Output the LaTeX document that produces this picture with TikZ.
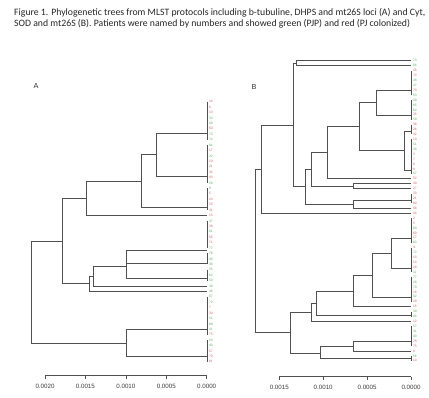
\documentclass[tikz,border=0pt]{standalone}
\usepackage{fontspec}
\usepackage{xcolor}
\usetikzlibrary{positioning}
\setmainfont{Carlito}
\newfontfamily\plotfont{Liberation Sans}
\definecolor{PatRed}{HTML}{E25C62}
\definecolor{PatGreen}{HTML}{58B45C}
\definecolor{TreeGray}{HTML}{505050}

\begin{document}
\begin{tikzpicture}[
  x=1pt, y=-1pt,
  caption/.style={anchor=base west, inner sep=0pt, font=\fontsize{9.75}{11}\selectfont, text=black!85},
  panel/.style={inner sep=0pt, font=\plotfont\fontsize{7.3}{8}\selectfont, text=black!80},
  leaf/.style={inner sep=0pt, font=\plotfont\fontsize{3.3}{3.3}\selectfont},
  pjp/.style={text=PatGreen},
  pjc/.style={text=PatRed},
  branch/.style={draw=TreeGray, line width=0.9pt},
  axis/.style={draw=TreeGray, line width=0.7pt},
  ticklab/.style={inner sep=0pt, font=\plotfont\fontsize{6.2}{7}\selectfont, text=black!75}
]
\useasboundingbox[fill=white] (0,0) rectangle (429,398);

\node[caption] (cap1) at (14,15.7) {Figure 1. Phylogenetic trees from MLST protocols including b-tubuline, DHPS and mt26S loci (A) and Cyt,};
\node[caption] (cap2) at (14,26.7) {SOD and mt26S (B). Patients were named by numbers and showed green (PJP) and red (PJ colonized)};

\node[panel] (labA) at (36,86) {A};
\node[panel] (labB) at (254,87) {B};

% tree A: leaves
\foreach \lab/\kind [count=\i from 0] in {14/pjc,6/pjc,13/pjc,33/pjp,49/pjp,60/pjc,73/pjp,74/pjp,
  64/pjp,17/pjc,22/pjp,19/pjc,21/pjc,32/pjc,43/pjc,58/pjp,8/pjp,5/pjc,24/pjc,25/pjc,41/pjc,15/pjc,
  37/pjp,28/pjc,61/pjp,65/pjc,71/pjc,77/pjp,78/pjp,48/pjp,36/pjp,55/pjp,62/pjp,59/pjp,39/pjp,46/pjp,
  67/pjp,72/pjp,7/pjc,30/pjc,51/pjp,69/pjp,31/pjp,75/pjc,53/pjp,40/pjp,57/pjc,70/pjc,81/pjc}{
  \coordinate (a\i) at (207,{101.7+5.42*\i});
  \node[leaf,\kind,right=1.8pt of a\i] (la\i) {\lab};
}
\draw[branch] (a0) -- (a7);
\draw[branch] (a8) -- (a15);
\draw[branch] (a16) -- (a20);
\draw[branch] (a22) -- (a27);
\draw[branch] (a28) -- (a30);
\draw[branch] (a31) -- (a33);
\draw[branch] (a36) -- (a43);
\draw[branch] (a44) -- (a48);
\coordinate (ca1) at (207,133.3);
\coordinate (ca2) at (207,176);
\coordinate (ca3) at (207,207.3);
\coordinate (ca4) at (207,250);
\coordinate (ca5) at (207,263.3);
\coordinate (ca6) at (207,278.3);
\coordinate (ca7) at (207,329.3);
\coordinate (ca8) at (207,356.7);

% tree A: joins
\coordinate (nA1) at (156.7,154.7);
\coordinate (nA2) at (141.7,181);
\coordinate (nA3) at (86.7,198.3);
\coordinate (nA4) at (126,266);
\coordinate (nA5) at (93,276);
\coordinate (nA6) at (89.3,283.7);
\coordinate (nA7) at (62,241);
\coordinate (nA8) at (126,343);
\coordinate (rootA) at (31.7,292);
\draw[branch] (nA1) |- (ca1) (nA1) |- (ca2);
\draw[branch] (nA2) |- (nA1) (nA2) |- (ca3);
\draw[branch] (nA3) |- (nA2) (nA3) |- (a21);
\draw[branch] (nA4) |- (ca4) (nA4) |- (ca5) (nA4) |- (ca6);
\draw[branch] (nA5) |- (nA4) (nA5) |- (a34);
\draw[branch] (nA6) |- (nA5) (nA6) |- (a35);
\draw[branch] (nA7) |- (nA3) (nA7) |- (nA6);
\draw[branch] (nA8) |- (ca7) (nA8) |- (ca8);
\draw[branch] (rootA) |- (nA7) (rootA) |- (nA8);

% tree A: scale
\coordinate (axA0) at (45,375.7);
\coordinate (axA1) at (206.7,375.7);
\draw[axis] (axA0) -- (axA1);
\foreach \v/\x in {0.0020/45,0.0015/85.4,0.0010/125.9,0.0005/166.3,0.0000/206.7}{
  \draw[axis] (\x,375.7) -- (\x,379.2) node[ticklab, below=5pt] {\v};
}

% tree B: leaves
\foreach \lab/\kind [count=\i from 0] in {73/pjp,66/pjp,45/pjc,74/pjc,48/pjp,47/pjp,70/pjc,53/pjp,
  49/pjp,65/pjp,64/pjp,35/pjc,59/pjp,38/pjc,26/pjc,32/pjc,19/pjc,51/pjp,58/pjp,3/pjc,7/pjc,6/pjc,8/pjc,67/pjp,
  52/pjc,30/pjc,27/pjc,33/pjc,21/pjc,80/pjc,68/pjc,44/pjc,2/pjc,5/pjc,69/pjp,60/pjc,17/pjc,63/pjp,
  4/pjc,72/pjp,13/pjc,14/pjc,18/pjc,11/pjp,77/pjp,28/pjp,79/pjp,16/pjc,62/pjp,29/pjc,15/pjc,39/pjp,46/pjp,
  12/pjc,57/pjp,31/pjp,40/pjp,78/pjc,75/pjc,9/pjc,56/pjp,10/pjc}{
  \coordinate (b\i) at (411,{60.7+4.92*\i});
  \node[leaf,\kind,right=1.8pt of b\i] (lb\i) {\lab};
}
\draw[branch] (b2) -- (b7);
\draw[branch] (b8) -- (b12);
\draw[branch] (b13) -- (b15);
\draw[branch] (b16) -- (b23);
\draw[branch] (b27) -- (b29);
\draw[branch] (b32) -- (b37);
\draw[branch] (b38) -- (b43);
\draw[branch] (b44) -- (b49);
\draw[branch] (b51) -- (b52);
\draw[branch] (b54) -- (b58);
\draw[branch] (b60) -- (b61);
\coordinate (cb2) at (411,90.7);
\coordinate (cb3) at (411,115);
\coordinate (cb4) at (411,131);
\coordinate (cb5) at (411,170);
\coordinate (cb7) at (411,200);
\coordinate (cb8) at (411,238.3);
\coordinate (cb9) at (411,268.3);
\coordinate (cb10) at (411,297.7);
\coordinate (cb11) at (411,315);
\coordinate (cb12) at (411,341.7);
\coordinate (cb13) at (411,358.4);

% tree B: joins
\coordinate (nB1) at (296,63.2);
\coordinate (nB2) at (376.7,102.9);
\coordinate (nB3) at (404.3,150.5);
\coordinate (nB4) at (359,126.7);
\coordinate (nB5) at (327.7,152.8);
\coordinate (nB6) at (353.3,186.2);
\coordinate (nB7) at (311.7,169.5);
\coordinate (nB8) at (353.3,204.2);
\coordinate (nB9) at (305,186.8);
\coordinate (nB10) at (293.3,125);
\coordinate (nB11) at (261.7,169.2);
\coordinate (nB12) at (391.7,253.3);
\coordinate (nB13) at (372.7,275.5);
\coordinate (nB14) at (353.3,291.1);
\coordinate (nB15) at (316.7,303);
\coordinate (nB16) at (311.7,312.4);
\coordinate (nB17) at (353.3,346.4);
\coordinate (nB18) at (320,353.2);
\coordinate (nB19) at (290,332.8);
\coordinate (rootB) at (255,251);
\draw[branch] (nB1) |- (b0) (nB1) |- (b1);
\draw[branch] (nB2) |- (cb2) (nB2) |- (cb3);
\draw[branch] (nB3) |- (cb4) (nB3) |- (cb5);
\draw[branch] (nB4) |- (nB2) (nB4) |- (nB3);
\draw[branch] (nB5) |- (nB4) (nB5) |- (b24);
\draw[branch] (nB6) |- (b25) (nB6) |- (b26);
\draw[branch] (nB7) |- (nB5) (nB7) |- (nB6);
\draw[branch] (nB8) |- (cb7) (nB8) |- (b30);
\draw[branch] (nB9) |- (nB7) (nB9) |- (nB8);
\draw[branch] (nB10) |- (nB1) (nB10) |- (nB9);
\draw[branch] (nB11) |- (nB10) (nB11) |- (b31);
\draw[branch] (nB12) |- (cb8) (nB12) |- (cb9);
\draw[branch] (nB13) |- (nB12) (nB13) |- (cb10);
\draw[branch] (nB14) |- (nB13) (nB14) |- (b50);
\draw[branch] (nB15) |- (nB14) (nB15) |- (cb11);
\draw[branch] (nB16) |- (nB15) (nB16) |- (b53);
\draw[branch] (nB17) |- (cb12) (nB17) |- (b59);
\draw[branch] (nB18) |- (nB17) (nB18) |- (cb13);
\draw[branch] (nB19) |- (nB16) (nB19) |- (nB18);
\draw[branch] (rootB) |- (nB11) (rootB) |- (nB19);

% tree B: scale
\coordinate (axB0) at (279.3,376.7);
\coordinate (axB1) at (411,376.7);
\draw[axis] (axB0) -- (axB1);
\foreach \v/\x in {0.0015/279.3,0.0010/323.2,0.0005/367.1,0.0000/411}{
  \draw[axis] (\x,376.7) -- (\x,380.2) node[ticklab, below=5pt] {\v};
}
\end{tikzpicture}
\end{document}
